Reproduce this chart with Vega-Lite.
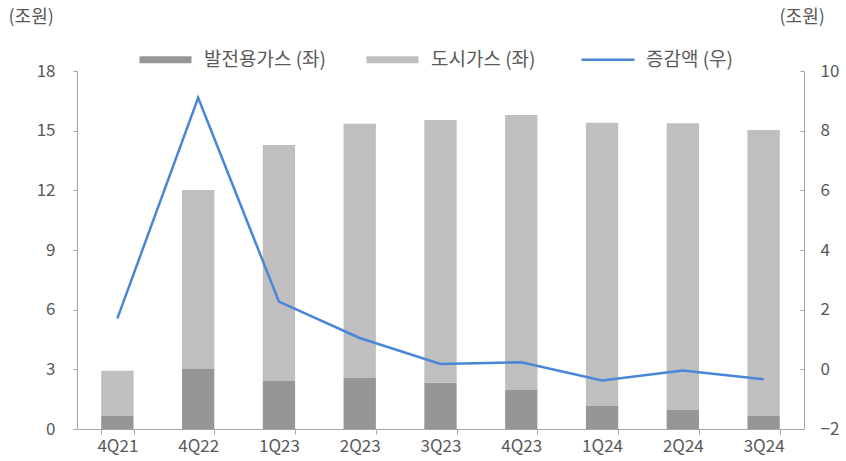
{
  "$schema": "https://vega.github.io/schema/vega-lite/v6.json",
  "width": 727,
  "height": 358,
  "autosize": {"type": "none"},
  "padding": {"left": 77, "top": 71, "right": 42, "bottom": 32},
  "background": "white",
  "config": {
    "font": "Noto Sans CJK KR",
    "view": {"stroke": null},
    "axis": {
      "labelFont": "Noto Sans CJK KR",
      "labelFontSize": 17,
      "labelColor": "#595959",
      "domainColor": "#a6a6a6",
      "tickColor": "#a6a6a6",
      "grid": false,
      "titleFont": "Noto Sans CJK KR",
      "titleFontSize": 18,
      "titleFontWeight": "normal",
      "titleColor": "#595959"
    },
    "legend": {
      "labelFont": "Noto Sans CJK KR",
      "labelFontSize": 19,
      "labelColor": "#595959"
    }
  },
  "data": {
    "values": [
      {"q": "4Q21", "series": "발전용가스 (좌)", "value": 0.65},
      {"q": "4Q22", "series": "발전용가스 (좌)", "value": 3.02},
      {"q": "1Q23", "series": "발전용가스 (좌)", "value": 2.41},
      {"q": "2Q23", "series": "발전용가스 (좌)", "value": 2.56},
      {"q": "3Q23", "series": "발전용가스 (좌)", "value": 2.32},
      {"q": "4Q23", "series": "발전용가스 (좌)", "value": 1.96},
      {"q": "1Q24", "series": "발전용가스 (좌)", "value": 1.16},
      {"q": "2Q24", "series": "발전용가스 (좌)", "value": 0.96},
      {"q": "3Q24", "series": "발전용가스 (좌)", "value": 0.65},
      {"q": "4Q21", "series": "도시가스 (좌)", "value": 2.28},
      {"q": "4Q22", "series": "도시가스 (좌)", "value": 9.0},
      {"q": "1Q23", "series": "도시가스 (좌)", "value": 11.87},
      {"q": "2Q23", "series": "도시가스 (좌)", "value": 12.79},
      {"q": "3Q23", "series": "도시가스 (좌)", "value": 13.22},
      {"q": "4Q23", "series": "도시가스 (좌)", "value": 13.83},
      {"q": "1Q24", "series": "도시가스 (좌)", "value": 14.24},
      {"q": "2Q24", "series": "도시가스 (좌)", "value": 14.41},
      {"q": "3Q24", "series": "도시가스 (좌)", "value": 14.38},
      {"q": "4Q21", "series": "증감액 (우)", "value": 1.71},
      {"q": "4Q22", "series": "증감액 (우)", "value": 9.1},
      {"q": "1Q23", "series": "증감액 (우)", "value": 2.27},
      {"q": "2Q23", "series": "증감액 (우)", "value": 1.05},
      {"q": "3Q23", "series": "증감액 (우)", "value": 0.18},
      {"q": "4Q23", "series": "증감액 (우)", "value": 0.24},
      {"q": "1Q24", "series": "증감액 (우)", "value": -0.37},
      {"q": "2Q24", "series": "증감액 (우)", "value": -0.04},
      {"q": "3Q24", "series": "증감액 (우)", "value": -0.33}
    ]
  },
  "encoding": {
    "x": {
      "field": "q",
      "type": "nominal",
      "sort": null,
      "scale": {"paddingInner": 0.6, "paddingOuter": 0.3},
      "axis": {"title": null, "labelAngle": 0, "tickBand": "extent", "tickSize": 5, "labelPadding": 4}
    },
    "color": {
      "field": "series",
      "type": "nominal",
      "sort": ["발전용가스 (좌)", "도시가스 (좌)", "증감액 (우)"],
      "scale": {
        "domain": ["발전용가스 (좌)", "도시가스 (좌)", "증감액 (우)"],
        "range": ["#969696", "#bfbfbf", "#4a86d8"]
      },
      "legend": {
        "title": null,
        "orient": "none",
        "legendX": 63,
        "legendY": -21,
        "direction": "horizontal",
        "columns": 3,
        "columnPadding": 40,
        "symbolSize": 400,
        "labelOffset": 45,
        "encode": {
          "symbols": {
            "update": {
              "shape": {"signal": "datum.value === '증감액 (우)' ? 'M-1,0H4.3' : 'M-1,-0.35H4.2V0.35H-1Z'"},
              "fill": {"signal": "datum.value === '증감액 (우)' ? 'transparent' : scale('color', datum.value)"},
              "stroke": {"signal": "datum.value === '증감액 (우)' ? scale('color', datum.value) : 'transparent'"},
              "strokeWidth": {"signal": "datum.value === '증감액 (우)' ? 2.5 : 0"},
              "opacity": {"value": 1}
            }
          }
        }
      }
    }
  },
  "layer": [
    {
      "transform": [{"filter": "datum.series !== '증감액 (우)'"}],
      "mark": {"type": "bar"},
      "encoding": {
        "y": {
          "field": "value",
          "type": "quantitative",
          "stack": "zero",
          "scale": {"domain": [0, 18]},
          "axis": {
            "title": "(조원)",
            "titleAngle": 0,
            "titleAlign": "left",
            "titleBaseline": "middle",
            "titleX": -69,
            "titleY": -54,
            "values": [0, 3, 6, 9, 12, 15, 18],
            "tickSize": 4,
            "labelPadding": 18
          }
        }
      }
    },
    {
      "transform": [{"filter": "datum.series === '증감액 (우)'"}],
      "mark": {"type": "line", "strokeWidth": 2.5},
      "encoding": {
        "y": {
          "field": "value",
          "type": "quantitative",
          "scale": {"domain": [-2, 10]},
          "axis": {
            "orient": "right",
            "title": "(조원)",
            "titleAngle": 0,
            "titleAlign": "left",
            "titleBaseline": "middle",
            "titleX": -25,
            "titleY": -54,
            "values": [-2, 0, 2, 4, 6, 8, 10],
            "tickSize": -4,
            "labelPadding": 20
          }
        }
      }
    }
  ],
  "resolve": {"scale": {"y": "independent"}}
}
